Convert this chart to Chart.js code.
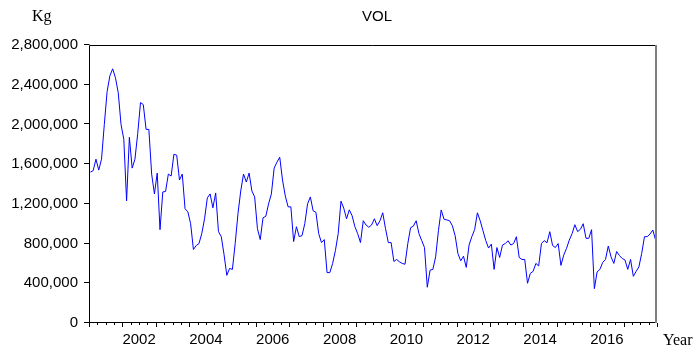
<!DOCTYPE html>
<html>
<head>
<meta charset="utf-8">
<script src="https://cdn.jsdelivr.net/npm/chart.js@4/dist/chart.umd.min.js"></script>
<style>
  html, body { margin: 0; padding: 0; background: #fff; }
</style>
</head>
<body>
<canvas id="chart" width="700" height="354"></canvas>
<script>
// Monthly volume (Kg), 2001m01 .. 2017m12
const startYear = 2001;
const endYear = 2018;

const volume = [
  1520000, 1535000, 1650000, 1540000, 1650000, 2000000, 2330000, 2490000, 2560000, 2470000, 2320000, 2000000, // 2001
  1850000, 1230000, 1870000, 1560000, 1650000, 1910000, 2220000, 2200000, 1950000, 1950000, 1500000, 1300000, // 2002
  1510000, 940000, 1320000, 1325000, 1500000, 1480000, 1700000, 1690000, 1440000, 1500000, 1150000, 1120000,  // 2003
  1000000, 740000, 780000, 800000, 900000, 1050000, 1260000, 1300000, 1160000, 1310000, 920000, 870000,       // 2004
  690000, 480000, 550000, 540000, 800000, 1100000, 1330000, 1500000, 1420000, 1510000, 1330000, 1270000,      // 2005
  950000, 840000, 1060000, 1075000, 1200000, 1300000, 1560000, 1620000, 1670000, 1440000, 1280000, 1170000,   // 2006
  1170000, 820000, 970000, 870000, 880000, 1000000, 1200000, 1270000, 1130000, 1115000, 900000, 810000,       // 2007
  840000, 508000, 508000, 600000, 730000, 900000, 1227000, 1156000, 1050000, 1140000, 1080000, 970000,        // 2008
  900000, 810000, 1030000, 987000, 964000, 987000, 1050000, 980000, 1030000, 1110000, 950000, 810000,         // 2009
  810000, 620000, 640000, 616000, 600000, 592000, 800000, 960000, 976000, 1030000, 900000, 830000,            // 2010
  760000, 360000, 532000, 540000, 666000, 930000, 1139000, 1045000, 1038000, 1030000, 980000, 880000,         // 2011
  700000, 626000, 673000, 560000, 785000, 870000, 940000, 1110000, 1030000, 930000, 830000, 755000,           // 2012
  795000, 540000, 760000, 660000, 785000, 800000, 828000, 785000, 800000, 869000, 660000, 640000,             // 2013
  640000, 400000, 500000, 520000, 600000, 575000, 800000, 830000, 808000, 920000, 780000, 760000,             // 2014
  800000, 580000, 684000, 751000, 835000, 900000, 990000, 920000, 944000, 1000000, 853000, 853000,            // 2015
  940000, 346000, 515000, 540000, 610000, 640000, 775000, 666000, 600000, 720000, 680000, 650000,             // 2016
  635000, 540000, 640000, 470000, 520000, 565000, 700000, 869000, 870000, 896000, 937000, 835000              // 2017
];

const yTicks = [0, 400000, 800000, 1200000, 1600000, 2000000, 2400000, 2800000];
const yearLabels = [2002, 2004, 2006, 2008, 2010, 2012, 2014, 2016];

// each month plotted at its mid point
const points = volume.map((v, i) => ({ x: startYear + (i + 0.5) / 12, y: v }));

const sansFont = 'Arial, "Liberation Sans", sans-serif';
const serifFont = '"Times New Roman", "Liberation Serif", serif';

// Frame, tick marks and the extra texts (Kg, VOL, Year)
const framePlugin = {
  id: 'frame',
  afterDraw(chart) {
    const { ctx, chartArea: a, scales: { x, y } } = chart;
    ctx.save();

    // right border (grey)
    ctx.strokeStyle = '#808080';
    ctx.lineWidth = 2;
    ctx.beginPath();
    ctx.moveTo(a.right - 1, a.top);
    ctx.lineTo(a.right - 1, a.bottom);
    ctx.stroke();

    // top, left and bottom lines
    ctx.strokeStyle = '#000';
    ctx.lineWidth = 1;
    ctx.beginPath();
    ctx.moveTo(a.left + 0.5, a.bottom - 0.5);
    ctx.lineTo(a.left + 0.5, a.top + 0.5);
    ctx.lineTo(a.right - 2, a.top + 0.5);
    ctx.moveTo(a.left, a.bottom - 0.5);
    ctx.lineTo(a.right - 2, a.bottom - 0.5);

    // x tick marks: quarters small, years long
    for (let k = 0; k <= (endYear - startYear) * 4; k++) {
      const px = Math.round(x.getPixelForValue(startYear + k / 4)) + 0.5;
      const len = k % 4 === 0 ? 4 : 2;
      ctx.moveTo(px, a.bottom);
      ctx.lineTo(px, a.bottom + len);
    }
    // y tick marks
    yTicks.forEach(v => {
      const py = Math.round(y.getPixelForValue(v)) - 0.5;
      ctx.moveTo(a.left - 5, py);
      ctx.lineTo(a.left + 0.5, py);
    });
    ctx.stroke();

    ctx.fillStyle = '#000';
    ctx.textBaseline = 'alphabetic';
    ctx.font = '16px ' + serifFont;
    ctx.textAlign = 'left';
    ctx.fillText('Kg', 32, 21);
    ctx.fillText('Year', 663, 345);

    ctx.font = '15px ' + sansFont;
    ctx.textAlign = 'center';
    ctx.fillText('VOL', 377, 21);
    ctx.restore();
  }
};

new Chart(document.getElementById('chart'), {
  type: 'line',
  data: {
    datasets: [{
      label: 'VOL',
      data: points,
      borderColor: '#0000ff',
      borderWidth: 1,
      pointRadius: 0,
      tension: 0,
      fill: false
    }]
  },
  options: {
    responsive: false,
    animation: false,
    parsing: true,
    layout: { padding: { top: 45, right: 43, left: 0, bottom: 0 } },
    plugins: {
      legend: { display: false },
      title: { display: false },
      tooltip: { enabled: false }
    },
    scales: {
      x: {
        type: 'linear',
        min: startYear,
        max: endYear,
        grid: { display: false, drawTicks: false },
        border: { display: false },
        afterFit: scale => { scale.height = 31; },
        afterBuildTicks: scale => {
          scale.ticks = yearLabels.map(yr => ({ value: yr + 0.5 }));
        },
        ticks: {
          autoSkip: false,
          maxRotation: 0,
          padding: 8,
          color: '#000',
          font: { family: sansFont, size: 15 },
          callback: v => String(Math.floor(v))
        }
      },
      y: {
        min: 0,
        max: 2800000,
        grid: { display: false, drawTicks: false },
        border: { display: false },
        afterFit: scale => { scale.width = 89; },
        afterBuildTicks: scale => {
          scale.ticks = yTicks.map(v => ({ value: v }));
        },
        ticks: {
          padding: 11,
          color: '#000',
          font: { family: sansFont, size: 15 },
          callback: v => v.toLocaleString('en-US')
        }
      }
    }
  },
  plugins: [framePlugin]
});
</script>
</body>
</html>
